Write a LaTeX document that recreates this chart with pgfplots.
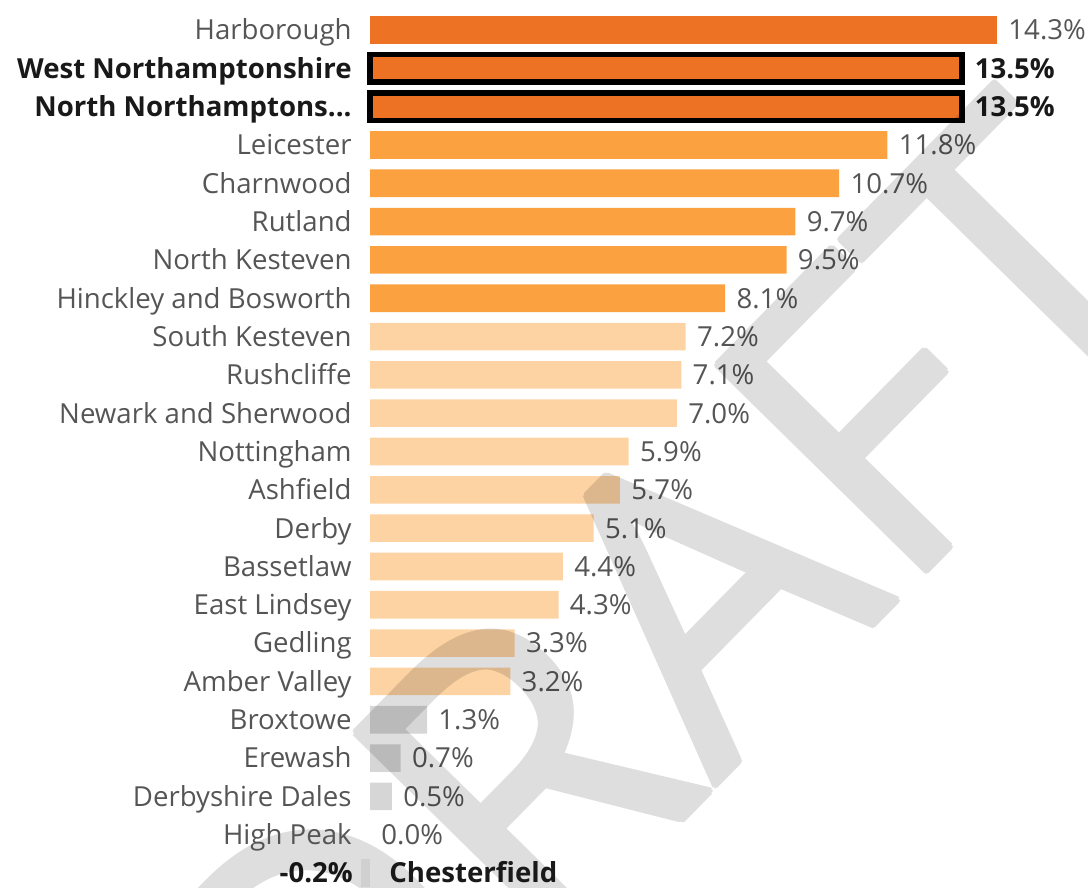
\documentclass[border=0pt]{standalone}
\usepackage{fontspec}
\setmainfont{Open Sans}
\usepackage{pgfplots}
\pgfplotsset{compat=1.18}
\definecolor{dorange}{HTML}{ED7223}
\definecolor{morange}{HTML}{FBA140}
\definecolor{lorange}{HTML}{FDD3A3}
\definecolor{lgrey}{HTML}{D6D6D6}
\definecolor{txt}{HTML}{555555}
\definecolor{wm}{HTML}{DEDEDE}
\tikzset{
  lab/.style={anchor=east, inner sep=0pt, text=txt, font=\fontsize{13.8pt}{16pt}\selectfont, text height=9.85pt, text depth=0pt},
  blab/.style={lab, text=black!90, font=\fontsize{13.8pt}{16pt}\selectfont\bfseries},
}
\begin{document}
\begin{tikzpicture}
% watermark drawn first; bars are multiplied over it
\foreach \dx/\dy in {0/0,1.6/0,-1.6/0,0/1.6,0/-1.6,1.13/1.13,-1.13/1.13,1.13/-1.13,-1.13/-1.13}{
  \node[rotate=45.5, anchor=base, text=wm, inner sep=0pt, font=\fontsize{206pt}{206pt}\selectfont] at ([xshift=\dx pt, yshift=\dy pt]383.5pt,77pt) {DRAFT};
}
\begin{axis}[
  scale only axis, width=544pt, height=444pt,
  xmin=-8.4379, xmax=16.374, ymin=-0.3904, ymax=22.783,
  hide axis, clip=false,
  xbar, bar width=13.8pt, bar shift=0pt,
  every axis plot/.append style={blend mode=multiply},
  /pgf/number format/assume math mode=true,
  point meta=x,
  nodes near coords={\pgfmathprintnumber[fixed,fixed zerofill,precision=1]{\pgfplotspointmeta}\%},
  every node near coord/.style={anchor=west, inner sep=0pt, xshift=5.5pt, text=txt, font=\fontsize{13.8pt}{16pt}\selectfont, text height=9.85pt, text depth=0pt},
]
\addplot[fill=dorange, draw=none] coordinates {(14.3,22)};
\addplot[fill=dorange, draw=black, line width=2.8pt, line join=miter,
  every node near coord/.append style={text=black!90, font=\fontsize{13.8pt}{16pt}\selectfont\bfseries, xshift=-0.5pt}]
  coordinates {(13.5,21) (13.5,20)};
\addplot[fill=morange, draw=none] coordinates {(11.8,19) (10.7,18) (9.7,17) (9.5,16) (8.1,15)};
\addplot[fill=lorange, draw=none] coordinates {(7.2,14) (7.1,13) (7.0,12) (5.9,11) (5.7,10) (5.1,9) (4.4,8) (4.3,7) (3.3,6) (3.2,5)};
\addplot[fill=lgrey, draw=none] coordinates {(1.3,4) (0.7,3) (0.5,2)};
\addplot[fill=none, draw=none] coordinates {(0.0,1)};
\addplot[fill=lgrey!40, draw=none,
  every node near coord/.append style={anchor=east, xshift=-9.5pt, text=black!90, font=\fontsize{13.8pt}{16pt}\selectfont\bfseries}]
  coordinates {(-0.2,0)};

\node[lab] at (axis cs:-0.41,22) {Harborough};
\node[blab] at (axis cs:-0.41,21) {West Northamptonshire};
\node[blab] at (axis cs:-0.41,20) {North Northamptons...};
\node[lab] at (axis cs:-0.41,19) {Leicester};
\node[lab] at (axis cs:-0.41,18) {Charnwood};
\node[lab] at (axis cs:-0.41,17) {Rutland};
\node[lab] at (axis cs:-0.41,16) {North Kesteven};
\node[lab] at (axis cs:-0.41,15) {Hinckley and Bosworth};
\node[lab] at (axis cs:-0.41,14) {South Kesteven};
\node[lab] at (axis cs:-0.41,13) {Rushcliffe};
\node[lab] at (axis cs:-0.41,12) {Newark and Sherwood};
\node[lab] at (axis cs:-0.41,11) {Nottingham};
\node[lab] at (axis cs:-0.41,10) {Ashfield};
\node[lab] at (axis cs:-0.41,9) {Derby};
\node[lab] at (axis cs:-0.41,8) {Bassetlaw};
\node[lab] at (axis cs:-0.41,7) {East Lindsey};
\node[lab] at (axis cs:-0.41,6) {Gedling};
\node[lab] at (axis cs:-0.41,5) {Amber Valley};
\node[lab] at (axis cs:-0.41,4) {Broxtowe};
\node[lab] at (axis cs:-0.41,3) {Erewash};
\node[lab] at (axis cs:-0.41,2) {Derbyshire Dales};
\node[lab] at (axis cs:-0.41,1) {High Peak};
\node[blab, anchor=west] at (axis cs:0.433,0) {Chesterfield};
\end{axis}
\pgfresetboundingbox
\path[use as bounding box] (0,0) rectangle (544pt,444pt);
\end{tikzpicture}
\end{document}
